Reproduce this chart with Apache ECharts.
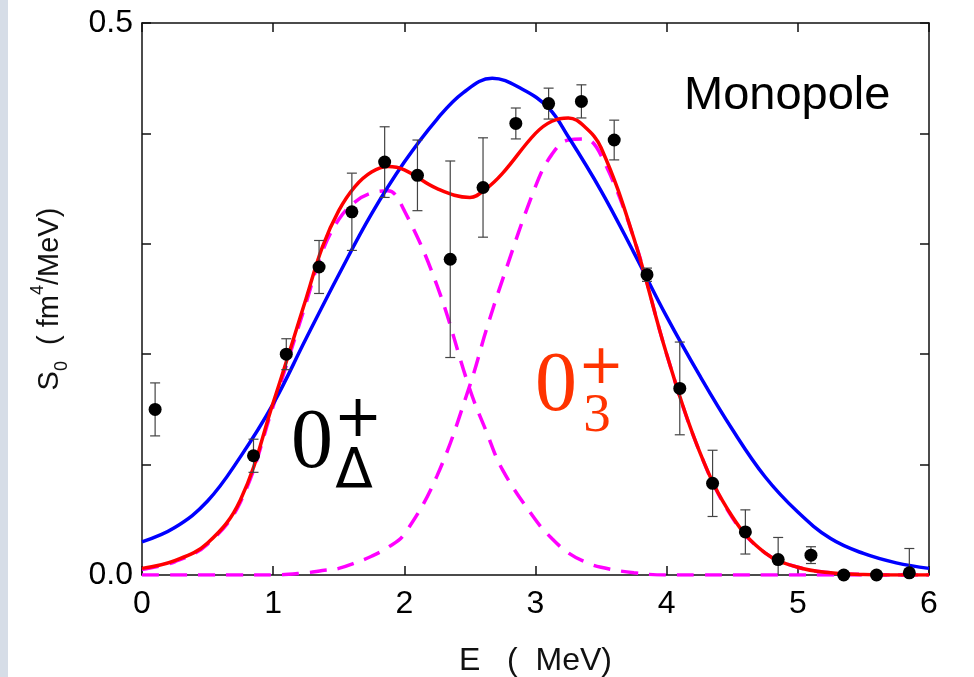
<!DOCTYPE html>
<html>
<head>
<meta charset="utf-8">
<title>Monopole strength</title>
<script src="https://cdn.jsdelivr.net/npm/echarts@6/dist/echarts.min.js"></script>
<style>
  html, body { margin: 0; padding: 0; background: #fff; }
  #chart { width: 974px; height: 677px; }
</style>
</head>
<body>
<div id="chart"></div>
<script>
// 实验点 (E, S0, 误差)
const expE = [0.10, 0.85, 1.10, 1.35, 1.60, 1.85, 2.10, 2.35, 2.60, 2.85, 3.10,
  3.35, 3.60, 3.85, 4.10, 4.35, 4.60, 4.85, 5.10, 5.35, 5.60, 5.85];
const expS = [0.150, 0.108, 0.200, 0.279, 0.329, 0.374, 0.362, 0.286, 0.351, 0.409, 0.427,
  0.429, 0.394, 0.272, 0.169, 0.083, 0.039, 0.014, 0.018, 0.0, 0.0, 0.002];
const expErr = [0.024, 0.015, 0.014, 0.024, 0.035, 0.032, 0.032, 0.089, 0.045, 0.014, 0.014,
  0.015, 0.018, 0.006, 0.042, 0.030, 0.020, 0.020, 0.0076, 0.003, 0.003, 0.022];

// 单峰拟合 (蓝线, 读图取点)
const blueE = [0, 0.25, 0.5, 0.75, 1.0, 1.25, 1.5, 1.75, 2.0, 2.25, 2.45, 2.67, 2.9, 3.1,
  3.25, 3.5, 3.75, 4.0, 4.25, 4.5, 4.75, 5.0, 5.25, 5.5, 5.75, 6.0];
const blueFit = [0.030, 0.043, 0.067, 0.107, 0.155, 0.214, 0.272, 0.327, 0.374, 0.413, 0.437,
  0.450, 0.440, 0.423, 0.397, 0.348, 0.292, 0.234, 0.181, 0.132, 0.089, 0.057, 0.033, 0.0195,
  0.011, 0.006];

// 双峰拟合及两个分量 (读图取点)
const curveE = [0, 0.25, 0.5, 0.75, 1.0, 1.25, 1.375, 1.5, 1.625, 1.75, 1.875, 2.0, 2.25, 2.5,
  2.625, 2.75, 3.0, 3.125, 3.25, 3.375, 3.5, 3.75, 4.0, 4.25, 4.5, 4.75, 5.0, 5.25, 5.5, 5.75, 6.0];
const redFit = [0.006, 0.013, 0.029, 0.068, 0.156, 0.250, 0.297, 0.330, 0.352, 0.365, 0.370,
  0.367, 0.350, 0.342, 0.350, 0.364, 0.400, 0.411, 0.414, 0.406, 0.387, 0.305, 0.200, 0.112,
  0.053, 0.020, 0.007, 0.002, 0.0005, 0, 0];
const peakDelta = [0.005, 0.012, 0.028, 0.066, 0.153, 0.246, 0.293, 0.322, 0.338, 0.346, 0.348,
  0.330, 0.262, 0.168, 0.130, 0.095, 0.050, 0.033, 0.020, 0.012, 0.007, 0.002, 0, 0, 0, 0, 0,
  0, 0, 0, 0];
const peak03 = [0, 0, 0, 0, 0, 0.002, 0.004, 0.006, 0.011, 0.017, 0.025, 0.037, 0.090, 0.172,
  0.222, 0.268, 0.352, 0.381, 0.394, 0.395, 0.380, 0.305, 0.200, 0.112, 0.052, 0.020, 0.007,
  0.002, 0.0005, 0, 0];

const xTicks = [0, 1, 2, 3, 4, 5, 6];
const yLabelShown = [0.0, 0.5];

const pairs = (xs, ys) => xs.map((x, i) => [x, ys[i]]);
const FONT = '"Liberation Sans", Arial, sans-serif';
const SERIF = '"Liberation Serif", "Times New Roman", serif';
const SANS2 = '"DejaVu Sans", sans-serif';

const axisLineStyle = { color: '#111', width: 1.5 };
const tickStyle = { show: true, inside: true, length: 9, lineStyle: { color: '#111', width: 1.5 } };

const chart = echarts.init(document.getElementById('chart'));

const option = {
  animation: false,
  backgroundColor: '#fff',
  grid: { left: 142, right: 45, top: 23, bottom: 102, outerBoundsMode: 'none', containLabel: false },
  xAxis: [
    {
      type: 'value', min: xTicks[0], max: xTicks[xTicks.length - 1], interval: 1,
      position: 'bottom',
      axisLine: { show: true, onZero: false, lineStyle: axisLineStyle },
      axisTick: tickStyle,
      splitLine: { show: false },
      axisLabel: { fontSize: 32, color: '#000', fontFamily: FONT, margin: 13 },
      name: 'E   (  MeV)',
      nameLocation: 'middle',
      nameGap: 70,
      nameTextStyle: { fontSize: 32, color: '#111', fontFamily: FONT }
    },
    {
      type: 'value', min: 0, max: 6, interval: 1,
      position: 'top',
      axisLine: { show: true, onZero: false, lineStyle: axisLineStyle },
      axisTick: tickStyle,
      splitLine: { show: false },
      axisLabel: { show: false }
    }
  ],
  yAxis: [
    {
      type: 'value', min: 0, max: 0.5, interval: 0.1,
      position: 'left',
      axisLine: { show: true, onZero: false, lineStyle: axisLineStyle },
      axisTick: tickStyle,
      splitLine: { show: false },
      axisLabel: {
        fontSize: 32, color: '#000', fontFamily: FONT, margin: 9,
        formatter: (v) => yLabelShown.some(t => Math.abs(t - v) < 1e-6) ? v.toFixed(1) : ''
      },
      name: '{m|S}{sub|0}{m|  ( fm}{sup|4}{m|/MeV)}',
      nameLocation: 'middle',
      nameGap: 71,
      nameRotate: 90,
      nameTextStyle: {
        color: '#111',
        rich: {
          m: { fontSize: 29, fontFamily: FONT, color: '#111', lineHeight: 42 },
          sub: { fontSize: 18, fontFamily: FONT, color: '#111', verticalAlign: 'bottom', lineHeight: 18 },
          sup: { fontSize: 18, fontFamily: FONT, color: '#111', verticalAlign: 'top', lineHeight: 18 }
        }
      }
    },
    {
      type: 'value', min: 0, max: 0.5, interval: 0.1,
      position: 'right',
      axisLine: { show: true, onZero: false, lineStyle: axisLineStyle },
      axisTick: tickStyle,
      splitLine: { show: false },
      axisLabel: { show: false }
    }
  ],
  graphic: [
    { type: 'rect', left: 0, top: 0, shape: { width: 8, height: 677 }, style: { fill: '#d6dde7' }, silent: true },
    { type: 'text', x: 684, y: 96, style: { text: 'Monopole', fontSize: 47, fontFamily: FONT, fill: '#000', textAlign: 'left', textVerticalAlign: 'middle' } },
    // 0Δ+
    { type: 'text', x: 312, y: 445, style: { text: '0', fontSize: 84, fontFamily: SERIF, fill: '#000', textAlign: 'center', textVerticalAlign: 'middle' } },
    { type: 'text', x: 358, y: 421, style: { text: '+', fontSize: 58, fontFamily: SANS2, fill: '#000', textAlign: 'center', textVerticalAlign: 'middle' } },
    { type: 'text', x: 354, y: 473, style: { text: 'Δ', fontSize: 55, fontFamily: SANS2, fill: '#000', textAlign: 'center', textVerticalAlign: 'middle' } },
    // 03+
    { type: 'text', x: 556, y: 388, style: { text: '0', fontSize: 84, fontFamily: SERIF, fill: '#ff3300', textAlign: 'center', textVerticalAlign: 'middle' } },
    { type: 'text', x: 601, y: 369, style: { text: '+', fontSize: 55, fontFamily: SANS2, fill: '#ff3300', textAlign: 'center', textVerticalAlign: 'middle' } },
    { type: 'text', x: 597, y: 417, style: { text: '3', fontSize: 55, fontFamily: SERIF, fill: '#ff3300', textAlign: 'center', textVerticalAlign: 'middle' } }
  ],
  series: [
    {
      name: '0Δ+', type: 'line', data: pairs(curveE, peakDelta), showSymbol: false, smooth: 0.4, z: 2,
      lineStyle: { color: '#ff00ff', width: 3.5, type: [17, 11] }
    },
    {
      name: '03+', type: 'line', data: pairs(curveE, peak03), showSymbol: false, smooth: 0.4, z: 2,
      lineStyle: { color: '#ff00ff', width: 3.5, type: [17, 11] }
    },
    {
      name: 'single', type: 'line', data: pairs(blueE, blueFit), showSymbol: false, smooth: 0.4, z: 3,
      lineStyle: { color: '#0000ff', width: 3.5 }
    },
    {
      name: 'two peaks', type: 'line', data: pairs(curveE, redFit), showSymbol: false, smooth: 0.4, z: 4,
      lineStyle: { color: '#ff0000', width: 3.5 }
    },
    {
      name: 'error', type: 'custom', z: 5, clip: true,
      data: expE.map((x, i) => [x, expS[i], expErr[i]]),
      renderItem: function (params, api) {
        const x = api.value(0), y = api.value(1), e = api.value(2);
        const top = api.coord([x, y + e]);
        const bot = api.coord([x, y - e]);
        const w = 5;
        const st = { stroke: '#444', lineWidth: 1.2 };
        return {
          type: 'group',
          children: [
            { type: 'line', shape: { x1: top[0], y1: top[1], x2: bot[0], y2: bot[1] }, style: st },
            { type: 'line', shape: { x1: top[0] - w, y1: top[1], x2: top[0] + w, y2: top[1] }, style: st },
            { type: 'line', shape: { x1: bot[0] - w, y1: bot[1], x2: bot[0] + w, y2: bot[1] }, style: st }
          ]
        };
      }
    },
    {
      name: 'data', type: 'scatter', z: 6, clip: true,
      data: expE.map((x, i) => [x, expS[i]]),
      symbol: 'circle', symbolSize: 13,
      itemStyle: { color: '#000', opacity: 1 }
    }
  ]
};

chart.setOption(option);
</script>
</body>
</html>
